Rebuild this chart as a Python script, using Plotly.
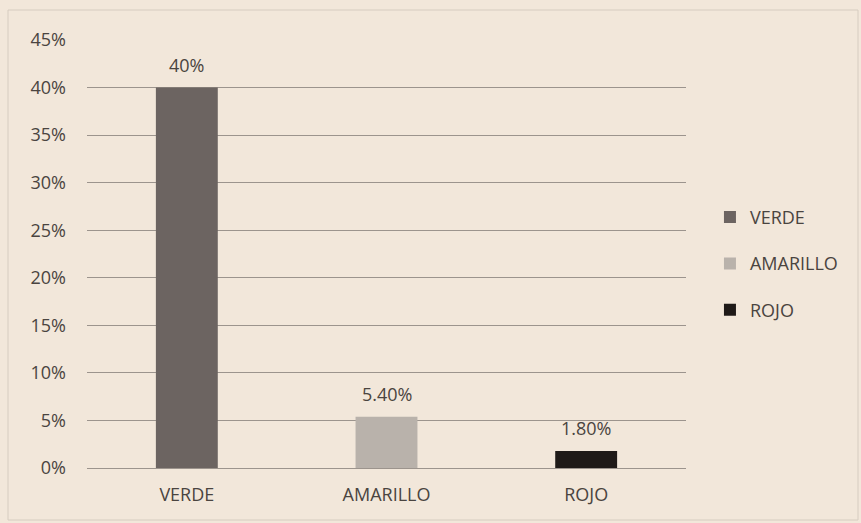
import plotly.graph_objects as go

categories = ["VERDE", "AMARILLO", "ROJO"]
values = [0.40, 0.054, 0.018]
value_labels = ["40%", "5.40%", "1.80%"]
colors = ["#6c6461", "#b9b2ab", "#1f1a18"]
y_ticks = [0, 0.05, 0.10, 0.15, 0.20, 0.25, 0.30, 0.35, 0.40, 0.45]
y_tick_labels = ["0%", "5%", "10%", "15%", "20%", "25%", "30%", "35%", "40%", "45%"]

FONT = "Open Sans, Liberation Sans, sans-serif"
TXT = "#4a4440"
FS = 18

fig = go.Figure()
for cat, val, col in zip(categories, values, colors):
    fig.add_trace(go.Bar(
        x=[cat], y=[val], name=cat,
        marker=dict(color=col, line=dict(width=0)), width=0.31,
        legendgroup=cat, hoverinfo="skip",
    ))

annotations = [
    dict(x=cat, y=val, text=lab, showarrow=False, xref="x", yref="y",
         yanchor="middle", yshift=23, font=dict(size=FS, color=TXT, family=FONT))
    for cat, val, lab in zip(categories, values, value_labels)
]

fig.update_layout(
    width=861, height=523,
    margin=dict(l=87, r=175, t=40, b=55),
    paper_bgcolor="#f2e7da", plot_bgcolor="#f2e7da",
    barmode="overlay",
    font=dict(family=FONT, size=FS, color=TXT),
    showlegend=True,
    legend=dict(x=1.04, y=0.477, xanchor="left", yanchor="middle",
                tracegroupgap=20, bgcolor="rgba(0,0,0,0)",
                font=dict(size=FS, color=TXT, family=FONT), itemwidth=30),
    xaxis=dict(categoryorder="array", categoryarray=categories,
               showgrid=False, showline=False, ticks="", ticklabelstandoff=14,
               tickfont=dict(size=FS, color=TXT, family=FONT)),
    yaxis=dict(range=[0, 0.45], tickvals=y_ticks, ticktext=y_tick_labels,
               showgrid=True, gridcolor="#9c948d", gridwidth=1,
               zeroline=True, zerolinecolor="#9c948d", zerolinewidth=1,
               showline=False, ticks="", ticklabelstandoff=20,
               tickfont=dict(size=FS, color=TXT, family=FONT)),
    annotations=annotations,
    shapes=[dict(type="rect", xref="paper", yref="paper",
                 x0=(8 - 87) / 599, x1=(858 - 87) / 599,
                 y0=-(520 - 468) / 428, y1=(468 - 10) / 428,
                 line=dict(color="#d6ccc0", width=1))],
)

fig.write_html("out.html", config={"displayModeBar": False},
               post_script="document.body.style.margin='0';document.body.style.overflow='hidden';")
